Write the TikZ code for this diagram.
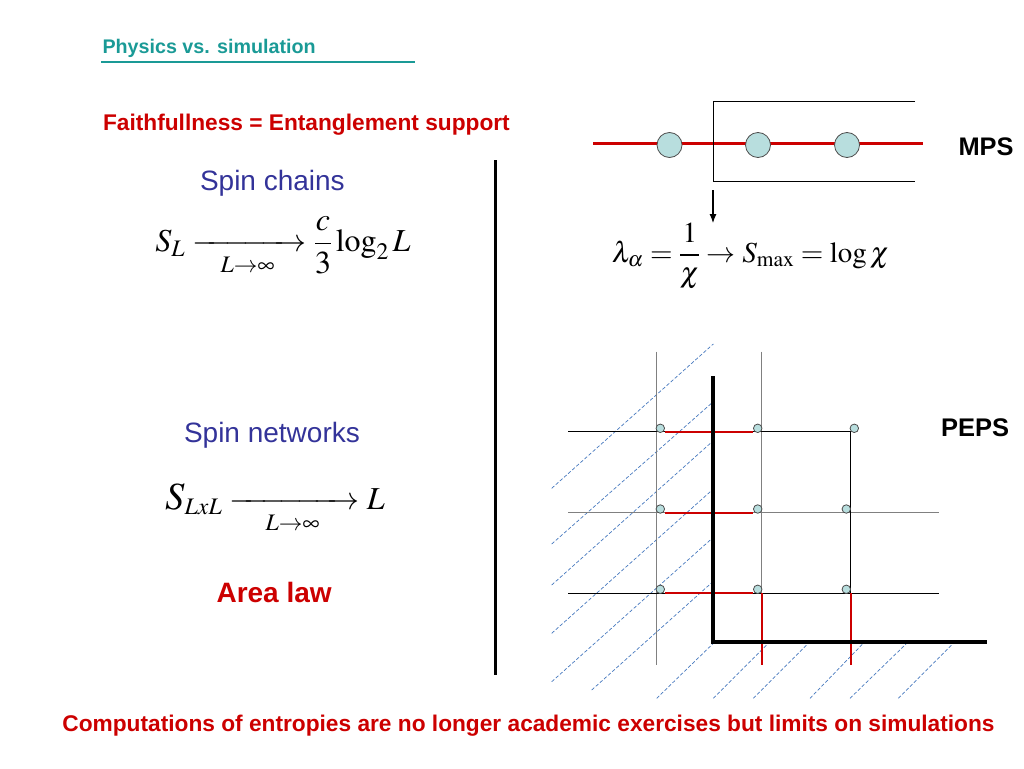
\documentclass[tikz,border=0pt]{standalone}
\usepackage{amsmath}
\usepackage{mathptmx}
\usepackage{fontspec}
\setsansfont{Liberation Sans}
\usepackage{tikz}
\usetikzlibrary{arrows,arrows.meta,shapes,positioning}

\definecolor{teal1}{RGB}{26,154,150}
\definecolor{red1}{RGB}{204,0,0}
\definecolor{blue1}{RGB}{51,51,153}
\definecolor{site}{RGB}{184,222,222}
\definecolor{hatch}{RGB}{70,120,190}

\begin{document}
\begin{tikzpicture}[x=1pt,y=-1pt,
    heading/.style={anchor=base west, font=\sffamily\bfseries\fontsize{#1}{#1}\selectfont},
    plain/.style={anchor=base west, blue1, font=\sffamily\fontsize{28}{30}\selectfont},
    bigsite/.style={draw=black!70, circle, fill=site, minimum size=25pt, inner sep=0pt, line width=0.8pt},
    site/.style={draw=black!70, circle, fill=site, minimum size=8.5pt, inner sep=0pt, line width=0.8pt},
    bond/.style={red1, line width=2.2pt},
    gridgray/.style={black!50, line width=1.5pt},
    gridblack/.style={black, line width=0.9pt},
    hatchline/.style={hatch, line width=0.7pt, dash pattern=on 3.5pt off 2pt}]
    \useasboundingbox (0,0) rectangle (1024,768);

    % left column
    \node[heading=19.7, teal1] (title) at (99,53) {Physics vs. simulation};
    \draw[teal1, line width=2.5pt] (101,62) -- (415,62);
    \node[heading=22.7, red1] (faith) at (99.5,130) {Faithfullness = Entanglement support};

    \node[plain] (chains) at (196.5,190.5) {Spin chains};
    \node[font=\fontsize{32}{34}\selectfont] (law1) at (283,246)
        {$\displaystyle S_L \xrightarrow[L\to\infty]{\hspace{3em}} \frac{c}{3}\log_2 L$};

    \node[plain] (networks) at (180.5,442) {Spin networks};
    \node[font=\fontsize{32}{34}\selectfont] (law2) at (275,509)
        {$\scalebox{1.2}{$S$}_{LxL} \xrightarrow[L\to\infty]{\hspace{3.5em}} L$};
    \node[heading=28, red1] (area) at (213,602) {Area law};

    \coordinate (sepT) at (495,160);
    \coordinate (sepB) at (495,675);
    \draw[line width=3pt] (sepT) -- (sepB);

    % MPS
    \coordinate (chainL) at (593,143);
    \coordinate (chainR) at (923,143);
    \draw[red1, line width=3pt] (chainL) -- (chainR);
    \draw[line width=0.9pt] (915,101.7) -- (713,101.7) -- (713,181.7) -- (915,181.7);
    \node[bigsite] (A1) at (669.5,145) {};
    \node[bigsite] (A2) at (758,145) {};
    \node[bigsite] (A3) at (847,145) {};
    \node[heading=25.4] (mps) at (955,155) {MPS};

    \coordinate (cutT) at (713,190);
    \coordinate (cutB) at (713,223);
    \draw[-{Latex[length=9pt,width=7pt]}, line width=1.1pt] (cutT) -- (cutB);
    \node[font=\fontsize{29}{31}\selectfont] (schmidt) at (750.5,256)
        {$\displaystyle \lambda_\alpha = \frac{1}{\chi} \to S_{\max} = \log\chi$};

    % PEPS
    \draw[hatchline] (551.7,488.3) -- (713.3,344)
        (551.7,544) -- (713.3,401.7)
        (551.7,585) -- (713.3,440.7)
        (551.7,633.3) -- (713.3,489)
        (551.7,681.7) -- (713.3,537.3)
        (591.7,690) -- (713.3,581.3)
        (656.7,698.3) -- (713.3,643.3)
        (713.3,698.3) -- (768.3,643.3)
        (753.3,698.3) -- (808.3,643.3)
        (810,698.3) -- (863.3,643.3)
        (850,698.3) -- (906.7,643.3)
        (898.3,698.3) -- (953.3,643.3);

    \coordinate (r1) at (568,431.7);
    \coordinate (r2) at (568,512.7);
    \coordinate (r3) at (568,593.3);
    \draw[gridgray] (656.7,351.7) -- (656.7,665);
    \draw[gridgray] (761.7,351.7) -- (761.7,593.3);
    \draw[gridgray] (r2) -- (939,512.7);
    \draw[gridblack] (r1) -- (850.7,431.7) -- (850.7,593.3);
    \draw[gridblack] (r3) -- (939,593.3);
    \draw[bond] (761.7,593.3) -- (761.7,665);
    \draw[bond] (850.7,593.3) -- (850.7,665);

    \node[site] (B11) at (660.3,428.3) {};
    \node[site] (B12) at (757.7,428.3) {};
    \node[site] (B13) at (854.3,428.3) {};
    \node[site] (B21) at (660.3,509) {};
    \node[site] (B22) at (757.7,509) {};
    \node[site] (B23) at (846.3,509) {};
    \node[site] (B31) at (660.3,589.3) {};
    \node[site] (B32) at (757.7,589.3) {};
    \node[site] (B33) at (846.3,589.3) {};

    \draw[bond] (B11.east |- r1) -- (B12.west |- r1);
    \draw[bond] (B21.east |- r2) -- (B22.west |- r2);
    \draw[bond] (B31.east |- r3) -- (B32.west |- r3);

    \draw[line width=4pt] (713.3,376) -- (713.3,642.3) -- (987.3,642.3);
    \node[heading=25.5] (peps) at (937.5,436.7) {PEPS};

    % bottom line
    \node[heading=22.7, anchor=base, red1] (concl) at (528.5,731)
        {Computations of entropies are no longer academic exercises but limits on simulations};
\end{tikzpicture}
\end{document}
